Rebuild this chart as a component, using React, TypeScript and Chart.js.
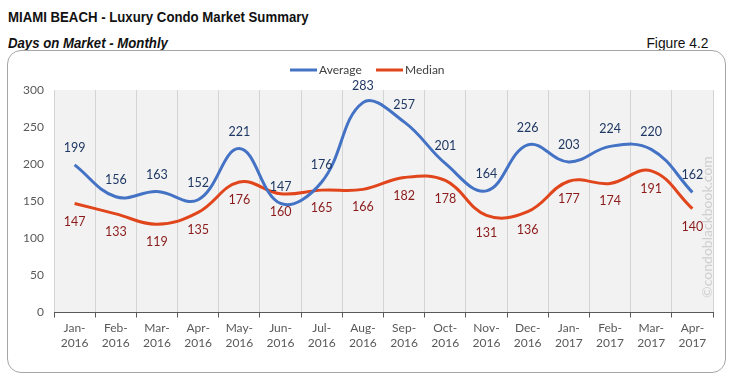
import React, { useEffect, useRef } from "react";
import { Chart, registerables } from "chart.js";

Chart.register(...registerables);

const categories: string[][] = [
  ["Jan-", "2016"], ["Feb-", "2016"], ["Mar-", "2016"], ["Apr-", "2016"],
  ["May-", "2016"], ["Jun-", "2016"], ["Jul-", "2016"], ["Aug-", "2016"],
  ["Sep-", "2016"], ["Oct-", "2016"], ["Nov-", "2016"], ["Dec-", "2016"],
  ["Jan-", "2017"], ["Feb-", "2017"], ["Mar-", "2017"], ["Apr-", "2017"],
];
const averageValues = [199, 156, 163, 152, 221, 147, 176, 283, 257, 201, 164, 226, 203, 224, 220, 162];
const medianValues = [147, 133, 119, 135, 176, 160, 165, 166, 182, 178, 131, 136, 177, 174, 191, 140];
const seriesNames = ["Average", "Median"];
const yTicks = { min: 0, max: 300, step: 50 };

const AVG_COLOR = "#4472C4";
const MED_COLOR = "#E0451B";
const AVG_LABEL = "#1F3864";
const MED_LABEL = "#8B1A1A";
const FONT = "Lato, 'Open Sans', sans-serif";

const bgPlugin = {
  id: "plotBg",
  beforeDraw(chart: any) {
    const { ctx, chartArea } = chart;
    ctx.save();
    ctx.fillStyle = "#F2F2F2";
    ctx.fillRect(chartArea.left, chartArea.top, chartArea.right - chartArea.left, chartArea.bottom - chartArea.top);
    ctx.restore();
  },
};

const labelPlugin = {
  id: "dataLabels",
  afterDatasetsDraw(chart: any) {
    const { ctx } = chart;
    ctx.save();
    ctx.font = `12.5px ${FONT}`;
    ctx.textAlign = "center";
    ctx.textBaseline = "middle";
    chart.data.datasets.forEach((ds: any, di: number) => {
      const meta = chart.getDatasetMeta(di);
      meta.data.forEach((pt: any, i: number) => {
        const v = ds.data[i];
        ctx.fillStyle = di === 0 ? AVG_LABEL : MED_LABEL;
        const dy = di === 0 ? -17 : 18;
        ctx.fillText(String(v), pt.x, pt.y + dy);
      });
    });
    ctx.restore();
  },
  afterDraw(chart: any) {
    const { ctx } = chart;
    ctx.save();
    // legend
    const cy = 19;
    const items = [
      { name: seriesNames[0], color: AVG_COLOR, x: 282 },
      { name: seriesNames[1], color: MED_COLOR, x: 368 },
    ];
    ctx.font = `12px ${FONT}`;
    ctx.textBaseline = "middle";
    ctx.textAlign = "left";
    items.forEach((it) => {
      ctx.strokeStyle = it.color;
      ctx.lineWidth = 3;
      ctx.beginPath();
      ctx.moveTo(it.x, cy);
      ctx.lineTo(it.x + 27, cy);
      ctx.stroke();
      ctx.fillStyle = "#404040";
      ctx.fillText(it.name, it.x + 29, cy);
    });
    // watermark
    ctx.translate(699, 176);
    ctx.rotate(-Math.PI / 2);
    ctx.font = `14px ${FONT}`;
    ctx.fillStyle = "#CFCFCF";
    ctx.textAlign = "center";
    ctx.fillText("©condoblackbook.com", 0, 0);
    ctx.restore();
  },
};

function ChartBox() {
  const ref = useRef<HTMLCanvasElement | null>(null);
  useEffect(() => {
    if (!ref.current) return;
    const chart = new Chart(ref.current, {
      type: "line",
      data: {
        labels: categories,
        datasets: [
          {
            label: seriesNames[0],
            data: averageValues,
            borderColor: AVG_COLOR,
            backgroundColor: AVG_COLOR,
            borderWidth: 3,
            pointRadius: 0,
            tension: 0.4,
          },
          {
            label: seriesNames[1],
            data: medianValues,
            borderColor: MED_COLOR,
            backgroundColor: MED_COLOR,
            borderWidth: 3,
            pointRadius: 0,
            tension: 0.4,
          },
        ],
      },
      options: {
        animation: false,
        responsive: false,
        maintainAspectRatio: false,
        layout: { padding: { top: 39, right: 12, left: 0, bottom: 0 } },
        plugins: { legend: { display: false }, tooltip: { enabled: false }, title: { display: false } },
        scales: {
          x: {
            offset: true,
            grid: {
              offset: true,
              color: "#D4D4D4",
              tickColor: "#595959",
              tickLength: 5,
              drawOnChartArea: true,
            },
            border: { display: true, color: "#595959", width: 1 },
            ticks: {
              color: "#595959",
              font: { family: FONT, size: 12, lineHeight: 1.25 },
              padding: 3,
              maxRotation: 0,
              autoSkip: false,
            },
            afterFit(scale: any) {
              scale.height = 59.5;
            },
          },
          y: {
            min: yTicks.min,
            max: yTicks.max,
            grid: { display: false, drawTicks: false },
            border: { display: false },
            ticks: {
              stepSize: yTicks.step,
              color: "#595959",
              font: { family: FONT, size: 12 },
              padding: 10,
            },
            afterFit(scale: any) {
              scale.width = 46;
            },
          },
        },
      },
      plugins: [bgPlugin, labelPlugin],
    });
    return () => chart.destroy();
  }, []);
  return <canvas ref={ref} width={717} height={321} style={{ position: "absolute", left: 8, top: 51, width: 717, height: 321 }} />;
}

export default function App() {
  const titleFont = "'Liberation Sans', Arial, sans-serif";
  return (
    <div style={{ position: "absolute", left: 0, top: 0, width: 731, height: 385, background: "#fff" }}>
      <div style={{ position: "absolute", left: 8, top: 8, fontFamily: titleFont, fontWeight: "bold", fontSize: 15, color: "#111", lineHeight: "18px", whiteSpace: "nowrap", transform: "scaleX(0.88)", transformOrigin: "left center" }}>
        MIAMI BEACH - Luxury Condo Market Summary
      </div>
      <div style={{ position: "absolute", left: 8, top: 34, fontFamily: titleFont, fontWeight: "bold", fontStyle: "italic", fontSize: 15, color: "#111", lineHeight: "18px", whiteSpace: "nowrap", transform: "scaleX(0.88)", transformOrigin: "left center" }}>
        Days on Market - Monthly
      </div>
      <div style={{ position: "absolute", right: 731 - 709, top: 34, fontFamily: titleFont, fontSize: 15, color: "#111", lineHeight: "18px", whiteSpace: "nowrap", transform: "scaleX(0.92)", transformOrigin: "right center" }}>
        Figure 4.2
      </div>
      <div style={{ position: "absolute", left: 7, top: 50, width: 717, height: 321, border: "1px solid #A6A6A6", borderRadius: 14 }} />
      <ChartBox />
    </div>
  );
}
